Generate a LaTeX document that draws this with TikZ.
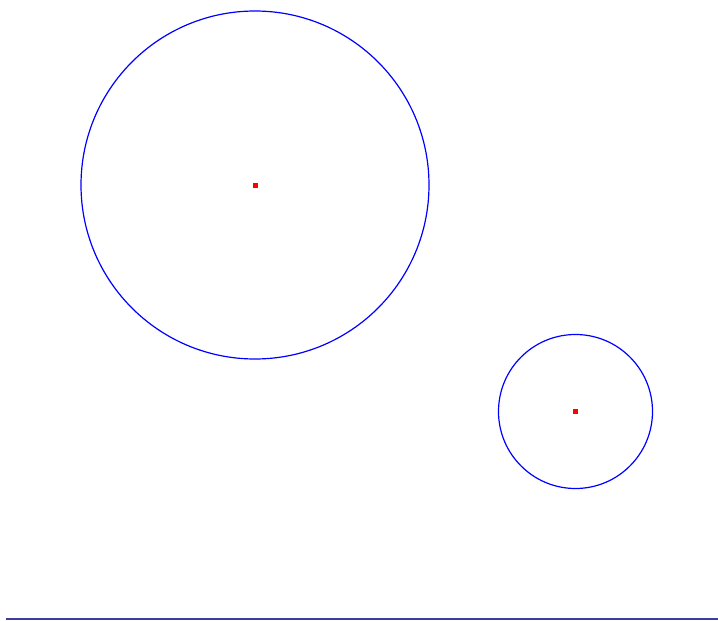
\documentclass[tikz,border=0pt]{standalone}
\definecolor{navyline}{RGB}{60,60,160}
\tikzset{ring/.style={draw=blue,line width=1.2pt},
  centerdot/.style={fill=red,draw=none,minimum size=5pt,inner sep=0pt,shape=rectangle},
  baseline rule/.style={draw=navyline,line width=2.2pt}}
\begin{document}
\begin{tikzpicture}[x=1pt,y=-1pt]
\useasboundingbox[fill=white] (0,0) rectangle (718,621);
\node[centerdot] (c1) at (255,185) {};
\node[centerdot] (c2) at (575.5,411.5) {};
\draw[ring] (c1.center) circle[radius=174];
\draw[ring] (c2.center) circle[radius=77];
\coordinate (l1) at (6,619);
\coordinate (l2) at (718,619);
\draw[baseline rule] (l1) -- (l2);
\end{tikzpicture}
\end{document}
